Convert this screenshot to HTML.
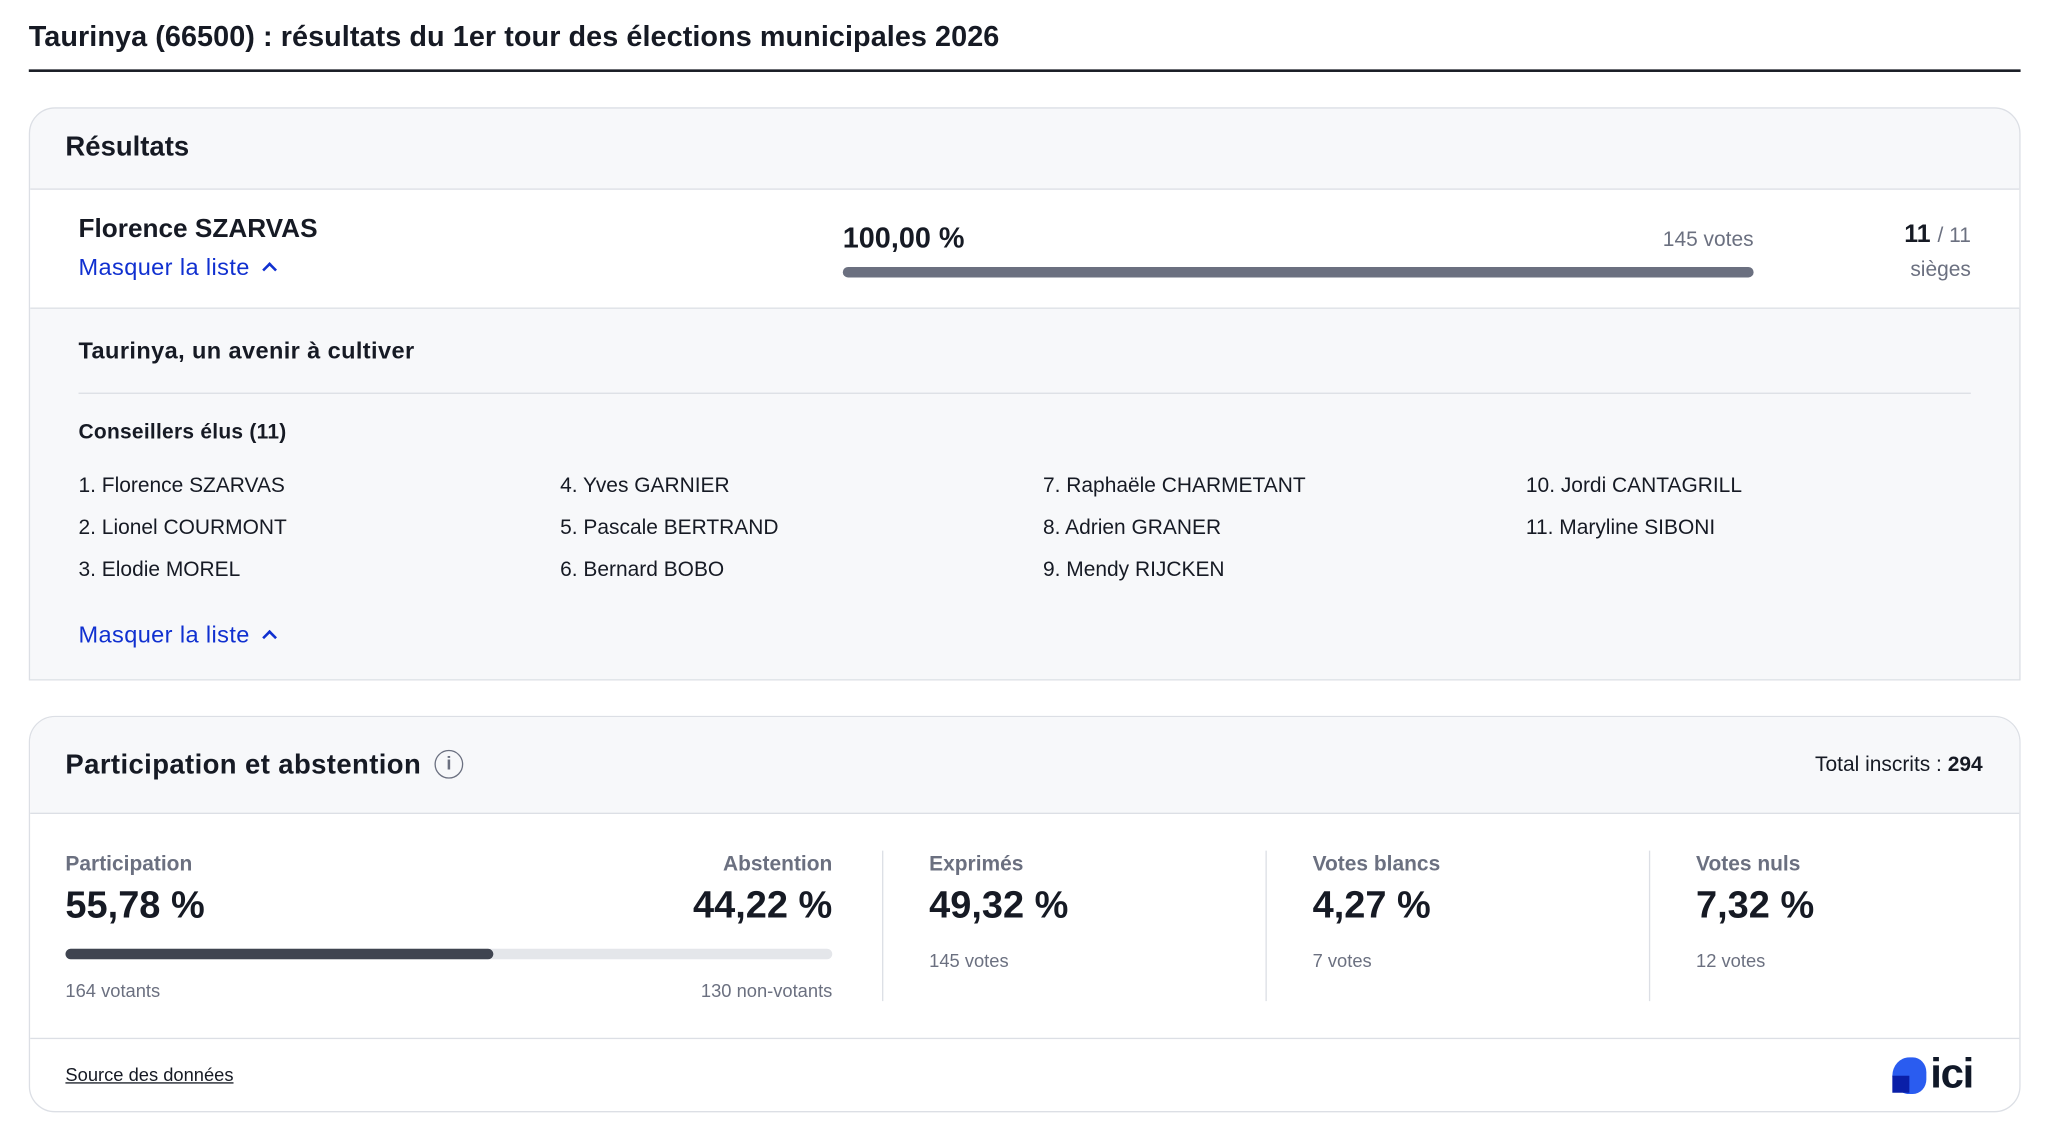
<!DOCTYPE html>
<html><head><meta charset="utf-8"><style>
*{margin:0;padding:0;box-sizing:border-box}
body{width:2052px;height:1132px;background:#fff;overflow:hidden;font-family:"Liberation Sans",sans-serif;color:#161a24}
#w{position:absolute;left:0;top:0;width:1568px;height:865px;transform:scale(1.30867);transform-origin:0 0}
.a{position:absolute;white-space:nowrap;line-height:1}
.b{font-weight:bold}
.blue{color:#1030d0}
.g{color:#6b7080}
.car{display:inline-block;width:8px;height:8px;border-left:2px solid #1030d0;border-top:2px solid #1030d0;transform:rotate(45deg);margin-left:11px;position:relative;top:0px}
</style></head><body><div id="w">
<div class="a b" style="left:22px;top:17px;font-size:22px;letter-spacing:0.05px">Taurinya (66500) : résultats du 1er tour des élections municipales 2026</div>
<div class="a" style="left:22px;top:53px;width:1522px;height:2px;background:#1a1d26"></div>

<div class="a" style="left:22px;top:82px;width:1522px;height:438px;border:1px solid #dcdfe5;border-radius:20px 20px 0 0;background:#f7f8fa;overflow:hidden">
 <div class="a" style="left:0;top:61px;width:1522px;height:92px;background:#fff;border-top:1px solid #dcdfe5;border-bottom:1px solid #dcdfe5"></div>
</div>
<div class="a b" style="left:50px;top:102px;font-size:21px">Résultats</div>
<div class="a b" style="left:60px;top:165px;font-size:20px">Florence SZARVAS</div>
<div class="a blue" style="left:60px;top:195px;font-size:18px;letter-spacing:0.3px">Masquer la liste<span class="car"></span></div>
<div class="a b" style="left:644px;top:171px;font-size:22px">100,00 %</div>
<div class="a g" style="left:1200px;width:140px;text-align:right;top:176px;font-size:16px">145 votes</div>
<div class="a" style="left:644px;top:204px;width:696px;height:8px;border-radius:4px;background:#6b7080"></div>
<div class="a" style="left:1400px;width:106px;text-align:right;top:170px;font-size:19px"><b>11</b> <span class="g" style="font-size:16px">/ 11</span></div>
<div class="a g" style="left:1400px;width:106px;text-align:right;top:199px;font-size:16px">sièges</div>

<div class="a b" style="left:60px;top:259px;font-size:18px;letter-spacing:0.3px">Taurinya, un avenir à cultiver</div>
<div class="a" style="left:60px;top:300px;width:1446px;height:1px;background:#dcdfe5"></div>
<div class="a b" style="left:60px;top:323px;font-size:16px;letter-spacing:0.2px">Conseillers élus (11)</div>
<div class="a" style="left:60px;top:364px;font-size:16px">1. Florence SZARVAS</div>
<div class="a" style="left:60px;top:396px;font-size:16px">2. Lionel COURMONT</div>
<div class="a" style="left:60px;top:428px;font-size:16px">3. Elodie MOREL</div>
<div class="a" style="left:428px;top:364px;font-size:16px">4. Yves GARNIER</div>
<div class="a" style="left:428px;top:396px;font-size:16px">5. Pascale BERTRAND</div>
<div class="a" style="left:428px;top:428px;font-size:16px">6. Bernard BOBO</div>
<div class="a" style="left:797px;top:364px;font-size:16px">7. Raphaële CHARMETANT</div>
<div class="a" style="left:797px;top:396px;font-size:16px">8. Adrien GRANER</div>
<div class="a" style="left:797px;top:428px;font-size:16px">9. Mendy RIJCKEN</div>
<div class="a" style="left:1166px;top:364px;font-size:16px">10. Jordi CANTAGRILL</div>
<div class="a" style="left:1166px;top:396px;font-size:16px">11. Maryline SIBONI</div>
<div class="a blue" style="left:60px;top:476px;font-size:18px;letter-spacing:0.3px">Masquer la liste<span class="car"></span></div>

<div class="a" style="left:22px;top:547px;width:1522px;height:303px;border:1px solid #dcdfe5;border-radius:20px;background:#fff;overflow:hidden">
 <div class="a" style="left:0;top:0;width:1522px;height:74px;background:#f7f8fa;border-bottom:1px solid #dcdfe5"></div>
 <div class="a" style="left:0;top:245px;width:1522px;height:1px;background:#dcdfe5"></div>
</div>
<div class="a b" style="left:50px;top:574px;font-size:21px;letter-spacing:0.3px">Participation et abstention</div>
<div class="a g" style="left:332px;top:573px;width:22px;height:22px;border:1.5px solid #6b7080;border-radius:50%;font-size:14px;text-align:center;line-height:19px;font-weight:bold">i</div>
<div class="a" style="left:1300px;width:215px;text-align:right;top:577px;font-size:16px">Total inscrits : <b>294</b></div>

<div class="a b g" style="left:50px;top:653px;font-size:16px">Participation</div>
<div class="a b" style="left:50px;top:678px;font-size:29px">55,78 %</div>
<div class="a b g" style="left:436px;width:200px;text-align:right;top:653px;font-size:16px">Abstention</div>
<div class="a b" style="left:436px;width:200px;text-align:right;top:678px;font-size:29px">44,22 %</div>
<div class="a" style="left:50px;top:725px;width:586px;height:8px;border-radius:4px;background:#e4e6ea"></div>
<div class="a" style="left:50px;top:725px;width:327px;height:8px;border-radius:4px;background:#3f4450"></div>
<div class="a g" style="left:50px;top:750px;font-size:14px">164 votants</div>
<div class="a g" style="left:436px;width:200px;text-align:right;top:750px;font-size:14px">130 non-votants</div>

<div class="a" style="left:674px;top:650px;width:1px;height:115px;background:#dcdfe5"></div>
<div class="a" style="left:967px;top:650px;width:1px;height:115px;background:#dcdfe5"></div>
<div class="a" style="left:1260px;top:650px;width:1px;height:115px;background:#dcdfe5"></div>

<div class="a b g" style="left:710px;top:653px;font-size:16px">Exprimés</div>
<div class="a b" style="left:710px;top:678px;font-size:29px">49,32 %</div>
<div class="a g" style="left:710px;top:727px;font-size:14px">145 votes</div>
<div class="a b g" style="left:1003px;top:653px;font-size:16px">Votes blancs</div>
<div class="a b" style="left:1003px;top:678px;font-size:29px">4,27 %</div>
<div class="a g" style="left:1003px;top:727px;font-size:14px">7 votes</div>
<div class="a b g" style="left:1296px;top:653px;font-size:16px">Votes nuls</div>
<div class="a b" style="left:1296px;top:678px;font-size:29px">7,32 %</div>
<div class="a g" style="left:1296px;top:727px;font-size:14px">12 votes</div>

<div class="a" style="left:50px;top:814px;font-size:14px;text-decoration:underline">Source des données</div>
<div class="a" style="left:1446px;top:808px;width:26px;height:28px;background:#2a5cf0;border-radius:50% 40% 40% 50%"></div>
<div class="a" style="left:1446px;top:822px;width:13px;height:13px;background:#0a1fa8"></div>
<div class="a b" style="left:1475px;top:804px;font-size:32px;letter-spacing:-1px;color:#101828">ici</div>
</div></body></html>
